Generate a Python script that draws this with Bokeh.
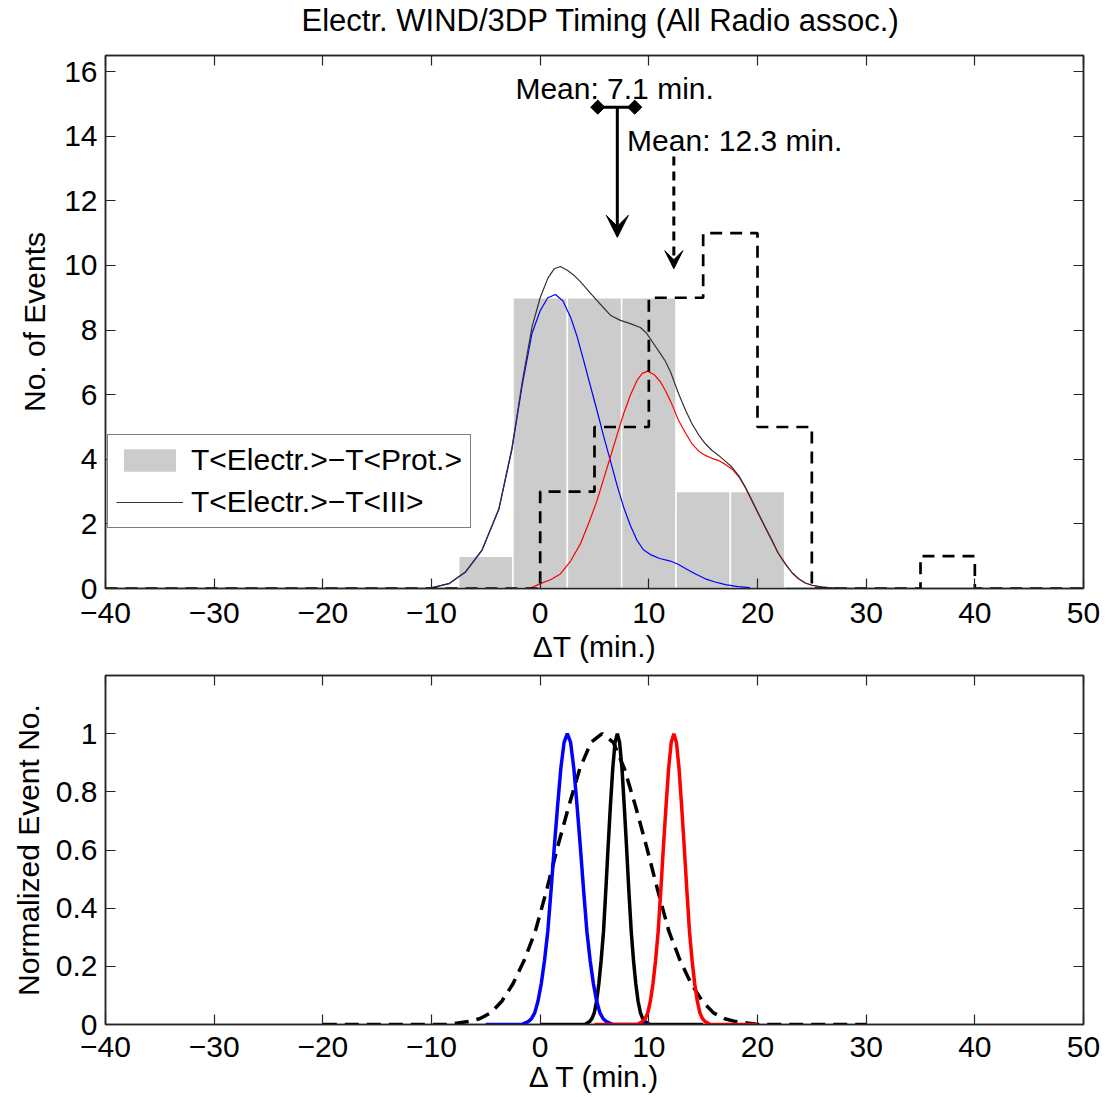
from bokeh.plotting import figure
from bokeh.layouts import column
from bokeh.models import (Range1d, LinearAxis, FixedTicker, Legend, LegendItem,
                          Label, Arrow, VeeHead, CustomJSTickFormatter, CustomLabelingPolicy)
from bokeh.core.properties import value
from bokeh.embed import file_html
from bokeh.resources import INLINE

FONT = "Liberation Sans"
FS = "30px"
AXC = "#262626"

# ---------------- data ----------------
title_text = "Electr. WIND/3DP Timing (All Radio assoc.)"
x_ticks = [-40, -30, -20, -10, 0, 10, 20, 30, 40, 50]
top_y_ticks = [0, 2, 4, 6, 8, 10, 12, 14, 16]
bot_y_ticks = [0, 0.2, 0.4, 0.6, 0.8, 1]

# gray histogram: T<Electr.>-T<Prot.>
bar_centers = [-5, 0, 5, 10, 15, 20]
bar_counts = [1, 9, 9, 9, 3, 3]
bar_width = 5

# dashed step histogram
step_edges = [-40, -35, -30, -25, -20, -15, -10, -5, 0, 5, 10, 15, 20, 25, 30, 35, 40, 45, 50]
step_counts = [0, 0, 0, 0, 0, 0, 0, 0, 3, 5, 9, 11, 5, 0, 0, 1, 0, 0]

# smooth curves in the top panel
kde_blue_x = [-10.3, -8.4, -6.9, -5.35, -3.8, -2.6, -1.65, -0.75, 0.0, 0.7, 1.4, 2.1, 2.8, 3.4,
              4.0, 4.6, 5.23, 5.85, 6.46, 7.07, 7.68, 8.3, 8.91, 9.5, 10.14, 11.0, 11.98, 12.7,
              13.36, 14.3, 15.2, 16.1, 17.04, 18.2, 19.3]
kde_blue_y = [0.0, 0.15, 0.5, 1.18, 2.45, 4.3, 6.3, 7.9, 8.6, 9.0, 9.1, 8.9, 8.4, 7.8,
              7.06, 6.3, 5.51, 4.7, 3.96, 3.2, 2.52, 1.95, 1.49, 1.2, 1.05, 0.93, 0.85, 0.75,
              0.62, 0.45, 0.3, 0.2, 0.12, 0.06, 0.03]

kde_black_x = [-10.3, -8.4, -6.9, -5.35, -3.8, -2.6, -1.65, -0.75, 0.0, 0.7, 1.3, 1.86, 2.5, 3.1,
               3.7, 4.6, 5.54, 6.5, 7.38, 8.3, 9.22, 9.8, 10.4, 11.0, 11.5, 12.0, 12.74, 13.4,
               13.97, 14.6, 15.2, 15.8, 16.42, 17.0, 17.65, 18.3, 18.88, 19.5, 20.1, 20.7, 21.33,
               21.9, 22.56, 23.2, 23.78, 24.4, 25.0, 26.0, 27.5]
kde_black_y = [0.0, 0.15, 0.5, 1.2, 2.47, 4.35, 6.4, 8.1, 9.0, 9.6, 9.9, 9.97, 9.85, 9.7,
               9.5, 9.15, 8.8, 8.45, 8.3, 8.2, 8.08, 7.9, 7.6, 7.3, 7.05, 6.7, 6.03, 5.5,
               5.1, 4.75, 4.48, 4.28, 4.12, 3.95, 3.76, 3.48, 3.14, 2.72, 2.31, 1.9, 1.49,
               1.1, 0.76, 0.48, 0.3, 0.17, 0.1, 0.04, 0.0]

kde_red_x = [-1.0, 0.02, 1.0, 1.86, 2.8, 3.7, 4.5, 5.23, 5.85, 6.46, 7.07, 7.68, 8.3, 8.91, 9.4,
             9.89, 10.5, 11.06, 11.52, 12.0, 12.74, 13.4, 13.97, 14.6, 15.2, 15.8, 16.42, 17.0,
             17.65, 18.3, 18.88, 19.5, 20.1, 20.7, 21.33, 21.9, 22.56, 23.2, 23.78, 24.4, 25.0,
             26.0, 27.5]
kde_red_y = [0.0, 0.15, 0.28, 0.45, 0.85, 1.38, 2.05, 2.72, 3.4, 4.07, 4.75, 5.41, 5.98, 6.44, 6.66,
             6.73, 6.62, 6.4, 6.13, 5.8, 5.2, 4.8, 4.48, 4.25, 4.12, 4.03, 3.96, 3.85,
             3.7, 3.45, 3.12, 2.7, 2.3, 1.9, 1.49, 1.1, 0.76, 0.48, 0.3, 0.17, 0.1,
             0.04, 0.0]

# means / error bar / arrows
mean_all = 7.1
mean_all_err = [5.3, 8.7]
mean_all_level = 14.9
mean_all_tip = 10.87
mean_dash = 12.3
mean_dash_start = 13.37
mean_dash_tip = 9.9

# bottom panel: normalized curves
norm_profile = [0, 0.0, 0.01, 0.02, 0.04, 0.08, 0.14, 0.22, 0.32, 0.46, 0.61, 0.75, 0.88, 0.97, 1.0,
                0.97, 0.88, 0.75, 0.61, 0.46, 0.32, 0.22, 0.14, 0.08, 0.04, 0.02, 0.01, 0.0, 0]
norm_blue_x = [-5, -1.7, -1.1, -0.8, -0.5, -0.2, 0.1, 0.4, 0.7, 1.0, 1.3, 1.6, 1.9, 2.2, 2.5,
               2.8, 3.1, 3.4, 3.7, 4.0, 4.3, 4.6, 4.9, 5.2, 5.5, 5.8, 6.1, 6.7, 10]
norm_black_x = [0, 4.12, 4.55, 4.76, 4.98, 5.19, 5.40, 5.61, 5.83, 6.04, 6.25, 6.46, 6.68, 6.89, 7.1,
                7.31, 7.53, 7.74, 7.95, 8.16, 8.38, 8.59, 8.80, 9.01, 9.23, 9.44, 9.65, 10.08, 15]
norm_red_x = [5, 8.94, 9.42, 9.66, 9.90, 10.14, 10.38, 10.62, 10.86, 11.10, 11.34, 11.58, 11.82, 12.06, 12.3,
              12.54, 12.78, 13.02, 13.26, 13.50, 13.74, 13.98, 14.22, 14.46, 14.70, 14.94, 15.18, 15.66, 20]
norm_dash_x = [-20, -8.65, -6.6, -5.58, -4.55, -3.53, -2.5, -1.48, -0.45, 0.58, 1.6, 2.63, 3.65, 4.68, 5.7,
               6.73, 7.75, 8.78, 9.8, 10.83, 11.85, 12.88, 13.9, 14.93, 15.95, 16.98, 18.0, 20.05, 30]

TICK_FMT = CustomJSTickFormatter(code="return tick < 0 ? '\\u2212' + Math.abs(tick) : String(tick);")


def tick_only_axis(ticks):
    return LinearAxis(ticker=FixedTicker(ticks=ticks), major_label_text_font_size="0px",
                      major_label_policy=CustomLabelingPolicy(code="return new Set()"),
                      major_label_standoff=0, major_tick_in=10, major_tick_out=0,
                      minor_tick_line_color=None, axis_line_color=AXC, axis_line_width=1.5,
                      major_tick_line_color=AXC, major_tick_line_width=1.2)


def style(p, yticks, xlabel, ylabel, xtick_standoff, xlabel_standoff, ylabel_standoff):
    p.outline_line_color = AXC
    p.outline_line_width = 1.5
    p.xgrid.visible = False
    p.ygrid.visible = False
    for ax in (p.xaxis[0], p.yaxis[0]):
        ax.major_tick_in = 10
        ax.major_tick_out = 0
        ax.minor_tick_line_color = None
        ax.axis_line_color = AXC
        ax.axis_line_width = 1.5
        ax.major_tick_line_color = AXC
        ax.major_tick_line_width = 1.2
        ax.major_label_text_font = FONT
        ax.major_label_text_font_size = FS
        ax.major_label_text_color = "black"
        ax.axis_label_text_font = FONT
        ax.axis_label_text_font_size = FS
        ax.axis_label_text_font_style = "normal"
        ax.axis_label_text_color = "black"
        ax.formatter = TICK_FMT
    p.xaxis[0].ticker = FixedTicker(ticks=x_ticks)
    p.yaxis[0].ticker = FixedTicker(ticks=yticks)
    p.xaxis[0].major_label_standoff = xtick_standoff
    p.yaxis[0].major_label_standoff = 8
    p.xaxis[0].axis_label = xlabel
    p.yaxis[0].axis_label = ylabel
    p.xaxis[0].axis_label_standoff = xlabel_standoff
    p.yaxis[0].axis_label_standoff = ylabel_standoff
    p.add_layout(tick_only_axis(x_ticks), "above")
    p.add_layout(tick_only_axis(yticks), "right")


# ---------------- title strip ----------------
pt = figure(width=1106, height=40, output_backend="svg", toolbar_location=None,
            x_range=Range1d(0, 1106), y_range=Range1d(0, 40),
            x_axis_location=None, y_axis_location=None,
            min_border_left=0, min_border_right=0, min_border_top=0, min_border_bottom=0,
            outline_line_color=None)
pt.grid.visible = False
pt.text(x=[560], y=[20], text=[title_text], text_align="center", text_baseline="middle",
        text_font=value(FONT), text_font_size=value("31px"), text_color="black")

# ---------------- top panel ----------------
p1 = figure(width=1106, height=626, output_backend="svg", toolbar_location=None,
            x_range=Range1d(-40, 50), y_range=Range1d(0, 16.5),
            min_border_left=105, min_border_right=23, min_border_top=15, min_border_bottom=78)
style(p1, top_y_ticks, "\u0394T (min.)", "No. of Events", 14, 4, 10)

bars = p1.vbar(x=bar_centers, top=bar_counts, width=bar_width, bottom=0,
               fill_color="#cccccc", line_color="white", line_width=1.5)
l_blue = p1.line(kde_blue_x, kde_blue_y, line_color="#0000ff", line_width=1.2)
l_red = p1.line(kde_red_x, kde_red_y, line_color="#ff0000", line_width=1.2)
l_black = p1.line(kde_black_x, kde_black_y, line_color="#333333", line_width=1.2)
p1.step(step_edges, step_counts + [step_counts[-1]], mode="after",
        line_color="black", line_width=2.7, line_dash="12 8")

# error bar of the mean and arrows
p1.segment(x0=[mean_all_err[0]], y0=[mean_all_level], x1=[mean_all_err[1]], y1=[mean_all_level],
           line_color="black", line_width=3)
p1.scatter(mean_all_err, [mean_all_level, mean_all_level], marker="square", angle=0.7854,
           size=10, fill_color="black", line_color="black")
p1.add_layout(Arrow(end=VeeHead(size=22, fill_color="black", line_color="black"),
                    x_start=mean_all, y_start=mean_all_level, x_end=mean_all, y_end=mean_all_tip,
                    line_color="black", line_width=3))
p1.add_layout(Arrow(end=VeeHead(size=18, fill_color="black", line_color="black"),
                    x_start=mean_dash, y_start=mean_dash_start, x_end=mean_dash, y_end=mean_dash_tip,
                    line_color="black", line_width=3, line_dash="9 6"))
p1.add_layout(Label(x=6.85, y=15.48, text="Mean: 7.1 min.", text_align="center",
                    text_baseline="middle", text_font=FONT, text_font_size=FS, text_color="black"))
p1.add_layout(Label(x=8.0, y=13.87, text="Mean: 12.3 min.", text_align="left",
                    text_baseline="middle", text_font=FONT, text_font_size=FS, text_color="black"))

legend = Legend(items=[LegendItem(label="T<Electr.>\u2212T<Prot.>", renderers=[bars]),
                       LegendItem(label="T<Electr.>\u2212T<III>", renderers=[l_black])],
                location=(2, 60), border_line_color="black", border_line_width=1.2,
                background_fill_color="white", background_fill_alpha=1,
                label_text_font=FONT, label_text_font_size=FS, label_text_color="black",
                glyph_width=67, glyph_height=30, label_height=32, label_standoff=8,
                padding=8, spacing=8, margin=0)
p1.add_layout(legend)

# ---------------- bottom panel ----------------
p2 = figure(width=1106, height=431, output_backend="svg", toolbar_location=None,
            x_range=Range1d(-40, 50), y_range=Range1d(0, 1.2),
            min_border_left=105, min_border_right=23, min_border_top=9, min_border_bottom=73)
style(p2, bot_y_ticks, "\u0394 T (min.)", "Normalized Event No.", 12, 0, 8)

p2.line(norm_dash_x, norm_profile, line_color="black", line_width=3.5, line_dash="14 8")
p2.line(norm_black_x, norm_profile, line_color="black", line_width=3.5)
p2.line(norm_blue_x, norm_profile, line_color="#0000ff", line_width=3.5)
p2.line(norm_red_x, norm_profile, line_color="#ff0000", line_width=3.5)

layout = column(pt, p1, p2, spacing=0)
open("out.html", "w").write(file_html(layout, INLINE, title="Electr. WIND/3DP Timing"))
